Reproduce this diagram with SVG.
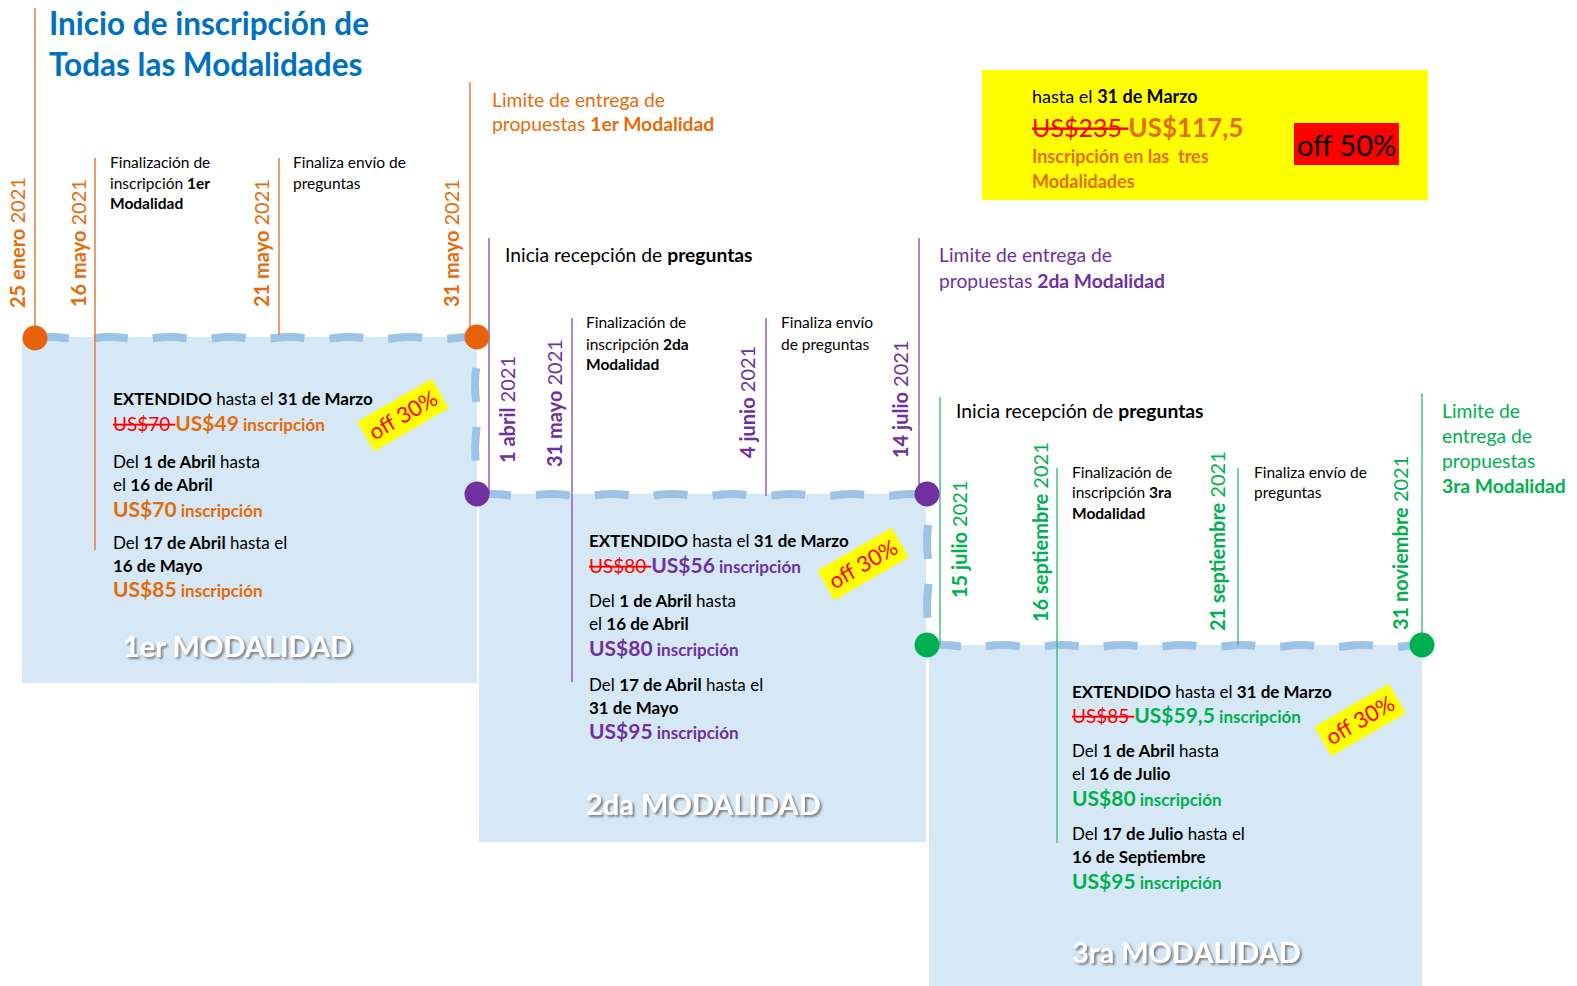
<svg xmlns="http://www.w3.org/2000/svg" width="1577" height="986" viewBox="0 0 1577 986">
<defs>
<style>
text{font-family:Lato,"Liberation Sans",sans-serif;}
.b{font-weight:700}
.date{font-size:20px}
.or{fill:#E46C0A}
.pu{fill:#7030A0}
.gr{fill:#00B050}
.note{font-size:15.5px;fill:#000}
.body{font-size:17px;fill:#000}
.head{font-size:19.3px}
.strike{fill:#FF0000;text-decoration:line-through;font-size:19px;font-weight:400}
.price{font-size:21px;font-weight:700}
.ins{font-size:17px;font-weight:700}
.mod{font-size:29px;font-weight:700;fill:#fff;filter:url(#sh)}
.panel{fill:#D6E8F6}
.dash{fill:none;stroke:#9DC3E6;stroke-width:8;stroke-dasharray:34 25}
.lo{stroke:#E08040;stroke-width:1.5}
.lp{stroke:#8A55B8;stroke-width:1.4}
.lg{stroke:#3DBB7A;stroke-width:1.4}
.badge rect{fill:#FFFF00}
.badge text{fill:#FF0000;font-size:22px}
</style>
<filter id="sh" x="-10%" y="-30%" width="130%" height="160%"><feDropShadow dx="2" dy="2" stdDeviation="1" flood-color="#808080"/></filter>
</defs>
<rect width="1577" height="986" fill="#fff"/>

<g id="panel1"><rect class="panel" x="22" y="337" width="455" height="346"/></g>
<g id="panel2"><rect class="panel" x="479" y="494" width="447" height="348"/></g>
<g id="panel3"><rect class="panel" x="929" y="645" width="493" height="341"/></g>

<g id="connectors">
<path class="dash" d="M35 338 q15 -2 30 0 t30 0 t30 0 t30 0 t30 0 t30 0 t30 0 t30 0 t30 0 t30 0 t30 0 t30 0 t30 0 t30 0 t30 0"/>
<path class="dash" style="stroke-dashoffset:28" d="M476 337 q2 16 0 32 t0 32 t0 32 t0 32 t0 29"/>
<path class="dash" d="M477 495 q15 -2 30 0 t30 0 t30 0 t30 0 t30 0 t30 0 t30 0 t30 0 t30 0 t30 0 t30 0 t30 0 t30 0 t30 0 t30 0"/>
<path class="dash" style="stroke-dashoffset:28" d="M928 494 q2 16 0 32 t0 32 t0 32 t0 32 t0 23"/>
<path class="dash" d="M927 646 q15 -2 30 0 t30 0 t30 0 t30 0 t30 0 t30 0 t30 0 t30 0 t30 0 t30 0 t30 0 t30 0 t30 0 t30 0 t30 0 t30 0 t15 -1"/>
<line class="lo" x1="35" y1="8" x2="35" y2="338"/>
<line class="lo" x1="95" y1="158" x2="95" y2="550"/>
<line class="lo" x1="279" y1="158" x2="279" y2="335"/>
<line class="lo" x1="470" y1="82" x2="470" y2="337"/>
<line class="lp" x1="489" y1="238" x2="489" y2="494"/>
<line class="lp" x1="919" y1="238" x2="919" y2="494"/>
<line class="lp" x1="572" y1="318" x2="572" y2="682"/>
<line class="lp" x1="766" y1="318" x2="766" y2="496"/>
<line class="lg" x1="940" y1="397" x2="940" y2="645"/>
<line class="lg" x1="1057" y1="468" x2="1057" y2="843"/>
<line class="lg" x1="1238" y1="468" x2="1238" y2="645"/>
<line class="lg" x1="1422" y1="393" x2="1422" y2="645"/>
</g>

<g id="markers">
<circle cx="35" cy="338" r="12.5" fill="#E8620C"/>
<circle cx="477" cy="337" r="12.5" fill="#E8620C"/>
<circle cx="477" cy="494" r="12.5" fill="#7030A0"/>
<circle cx="927" cy="494" r="12.5" fill="#7030A0"/>
<circle cx="927" cy="645" r="12.5" fill="#00B050"/>
<circle cx="1422" cy="645" r="12.5" fill="#00B050"/>
</g>

<g id="title">
<text x="49" y="35" font-size="31.5" font-weight="700" fill="#0070C0">Inicio de inscripción de</text>
<text x="49" y="76" font-size="31.5" font-weight="700" fill="#0070C0">Todas las Modalidades</text>
</g>

<g id="dates1">
<text class="date or" transform="translate(25 308) rotate(-90)"><tspan class="b">25 enero</tspan> 2021</text>
<text class="date or" transform="translate(86 307) rotate(-90)"><tspan class="b">16 mayo</tspan> 2021</text>
<text class="date or" transform="translate(269 307) rotate(-90)"><tspan class="b">21 mayo</tspan> 2021</text>
<text class="date or" transform="translate(459 307) rotate(-90)"><tspan class="b">31 mayo</tspan> 2021</text>
</g>
<g id="notes1">
<text class="note" x="110" y="168">Finalización de</text>
<text class="note" x="110" y="189">inscripción <tspan class="b">1er</tspan></text>
<text class="note b" x="110" y="209">Modalidad</text>
<text class="note" x="293" y="168">Finaliza envío de</text>
<text class="note" x="293" y="189">preguntas</text>
<text class="head or" x="492" y="107">Limite de entrega de</text>
<text class="head or" x="492" y="131">propuestas <tspan class="b">1er Modalidad</tspan></text>
</g>

<g id="dates2">
<text class="date pu" transform="translate(515 463) rotate(-90)"><tspan class="b">1 abril</tspan> 2021</text>
<text class="date pu" transform="translate(562 467) rotate(-90)"><tspan class="b">31 mayo</tspan> 2021</text>
<text class="date pu" transform="translate(755 458) rotate(-90)"><tspan class="b">4 junio</tspan> 2021</text>
<text class="date pu" transform="translate(908 458) rotate(-90)"><tspan class="b">14 julio</tspan> 2021</text>
</g>
<g id="notes2">
<text class="head" x="505" y="262" fill="#000">Inicia recepción de <tspan class="b">preguntas</tspan></text>
<text class="note" x="586" y="328">Finalización de</text>
<text class="note" x="586" y="350">inscripción <tspan class="b">2da</tspan></text>
<text class="note b" x="586" y="370">Modalidad</text>
<text class="note" x="781" y="328">Finaliza envío</text>
<text class="note" x="781" y="350">de preguntas</text>
<text class="head pu" x="939" y="262">Limite de entrega de</text>
<text class="head pu" x="939" y="288">propuestas <tspan class="b">2da Modalidad</tspan></text>
</g>

<g id="dates3">
<text class="date gr" transform="translate(967 598) rotate(-90)"><tspan class="b">15 julio</tspan> 2021</text>
<text class="date gr" transform="translate(1048 622) rotate(-90)"><tspan class="b">16 septiembre</tspan> 2021</text>
<text class="date gr" transform="translate(1225 631) rotate(-90)"><tspan class="b">21 septiembre</tspan> 2021</text>
<text class="date gr" transform="translate(1408 630) rotate(-90)"><tspan class="b">31 noviembre</tspan> 2021</text>
</g>
<g id="notes3">
<text class="head" x="956" y="418" fill="#000">Inicia recepción de <tspan class="b">preguntas</tspan></text>
<text class="note" x="1072" y="478">Finalización de</text>
<text class="note" x="1072" y="498">inscripción <tspan class="b">3ra</tspan></text>
<text class="note b" x="1072" y="519">Modalidad</text>
<text class="note" x="1254" y="478">Finaliza envío de</text>
<text class="note" x="1254" y="498">preguntas</text>
<text class="head gr" x="1442" y="418">Limite de</text>
<text class="head gr" x="1442" y="443">entrega de</text>
<text class="head gr" x="1442" y="468">propuestas</text>
<text class="head gr b" x="1442" y="493">3ra Modalidad</text>
</g>

<g id="promo">
<rect x="982" y="70" width="446" height="130" fill="#FFFF00"/>
<text x="1032" y="103" font-size="18" fill="#000">hasta el <tspan class="b">31 de Marzo</tspan></text>
<text x="1032" y="137"><tspan class="strike" style="font-size:25px">US$235 </tspan><tspan class="or b" font-size="26">US$117,5</tspan></text>
<text class="or b" x="1032" y="163" font-size="18">Inscripción en las&#160; tres</text>
<text class="or b" x="1032" y="188" font-size="18">Modalidades</text>
<rect x="1294" y="123" width="105" height="42" fill="#FF0000"/>
<text x="1297" y="156" font-size="29" fill="#000">off 50%</text>
</g>

<g id="prices1">
<text class="body" x="113" y="405"><tspan class="b">EXTENDIDO</tspan> hasta el <tspan class="b">31 de Marzo</tspan></text>
<text x="113" y="431"><tspan class="strike">US$70 </tspan><tspan class="price or">US$49</tspan><tspan class="ins or"> inscripción</tspan></text>
<text class="body" x="113" y="468">Del <tspan class="b">1 de Abril</tspan> hasta</text>
<text class="body" x="113" y="491">el <tspan class="b">16 de Abril</tspan></text>
<text x="113" y="517"><tspan class="price or">US$70</tspan><tspan class="ins or"> inscripción</tspan></text>
<text class="body" x="113" y="549">Del <tspan class="b">17 de Abril</tspan> hasta el</text>
<text class="body b" x="113" y="572">16 de Mayo</text>
<text x="113" y="597"><tspan class="price or">US$85</tspan><tspan class="ins or"> inscripción</tspan></text>
<text class="mod" x="123" y="657">1er MODALIDAD</text>
<g class="badge" transform="translate(403 415) rotate(-30)"><rect x="-43" y="-17" width="86" height="34"/><text x="0" y="8" text-anchor="middle">off 30%</text></g>
</g>

<g id="prices2">
<text class="body" x="589" y="547"><tspan class="b">EXTENDIDO</tspan> hasta el <tspan class="b">31 de Marzo</tspan></text>
<text x="589" y="573"><tspan class="strike">US$80 </tspan><tspan class="price pu">US$56</tspan><tspan class="ins pu"> inscripción</tspan></text>
<text class="body" x="589" y="607">Del <tspan class="b">1 de Abril</tspan> hasta</text>
<text class="body" x="589" y="630">el <tspan class="b">16 de Abril</tspan></text>
<text x="589" y="656"><tspan class="price pu">US$80</tspan><tspan class="ins pu"> inscripción</tspan></text>
<text class="body" x="589" y="691">Del <tspan class="b">17 de Abril</tspan> hasta el</text>
<text class="body b" x="589" y="714">31 de Mayo</text>
<text x="589" y="739"><tspan class="price pu">US$95</tspan><tspan class="ins pu"> inscripción</tspan></text>
<text class="mod" x="586" y="815">2da MODALIDAD</text>
<g class="badge" transform="translate(863 564) rotate(-30)"><rect x="-43" y="-17" width="86" height="34"/><text x="0" y="8" text-anchor="middle">off 30%</text></g>
</g>

<g id="prices3">
<text class="body" x="1072" y="698"><tspan class="b">EXTENDIDO</tspan> hasta el <tspan class="b">31 de Marzo</tspan></text>
<text x="1072" y="723"><tspan class="strike">US$85 </tspan><tspan class="price gr">US$59,5</tspan><tspan class="ins gr"> inscripción</tspan></text>
<text class="body" x="1072" y="757">Del <tspan class="b">1 de Abril</tspan> hasta</text>
<text class="body" x="1072" y="780">el <tspan class="b">16 de Julio</tspan></text>
<text x="1072" y="806"><tspan class="price gr">US$80</tspan><tspan class="ins gr"> inscripción</tspan></text>
<text class="body" x="1072" y="840">Del <tspan class="b">17 de Julio</tspan> hasta el</text>
<text class="body b" x="1072" y="863">16 de Septiembre</text>
<text x="1072" y="889"><tspan class="price gr">US$95</tspan><tspan class="ins gr"> inscripción</tspan></text>
<text class="mod" x="1072" y="963">3ra MODALIDAD</text>
<g class="badge" transform="translate(1360 720) rotate(-30)"><rect x="-43" y="-17" width="86" height="34"/><text x="0" y="8" text-anchor="middle">off 30%</text></g>
</g>
</svg>
